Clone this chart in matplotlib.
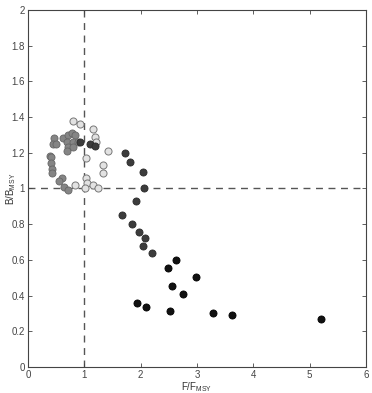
import matplotlib
matplotlib.use("Agg")
import matplotlib.pyplot as plt

plt.rcParams['font.family'] = ['Liberation Sans', 'DejaVu Sans']
plt.rcParams['mathtext.fontset'] = 'custom'
plt.rcParams['mathtext.rm'] = 'Liberation Sans'

# light gray group
light_x = [0.80, 0.92, 1.16, 1.19, 1.21, 1.43, 1.03, 1.34, 1.34, 1.03, 1.04, 1.16, 1.25, 0.83, 1.01]
light_y = [1.38, 1.36, 1.33, 1.29, 1.26, 1.21, 1.17, 1.13, 1.085, 1.06, 1.03, 1.02, 1.005, 1.02, 1.00]

# medium gray group
med_x = [0.46, 0.44, 0.50, 0.63, 0.72, 0.78, 0.83, 0.69, 0.80, 0.89, 0.72, 0.80, 0.69, 0.39,
         0.41, 0.41, 0.43, 0.43, 0.60, 0.56, 0.64, 0.72]
med_y = [1.28, 1.25, 1.25, 1.28, 1.30, 1.31, 1.30, 1.26, 1.26, 1.26, 1.23, 1.23, 1.21, 1.18,
         1.175, 1.145, 1.11, 1.085, 1.06, 1.04, 1.01, 0.99]

# dark gray group
dark_x = [0.92, 1.10, 1.19, 1.72, 1.81, 2.04, 2.06, 1.92, 1.67, 1.84, 1.98, 2.08, 2.05, 2.21]
dark_y = [1.26, 1.25, 1.24, 1.20, 1.15, 1.09, 1.005, 0.93, 0.853, 0.80, 0.758, 0.72, 0.68, 0.64]

# black group
black_x = [2.63, 2.49, 2.99, 2.56, 2.76, 1.94, 2.09, 2.52, 3.29, 3.63, 5.20]
black_y = [0.60, 0.555, 0.506, 0.454, 0.407, 0.36, 0.338, 0.315, 0.304, 0.29, 0.267]

fig = plt.figure(figsize=(3.72, 3.93), dpi=100)
ax = fig.add_axes([0.075, 0.066, 0.909, 0.909])

ax.axvline(1, color='#555555', linestyle=(0, (5, 4)), linewidth=1.0, zorder=1)
ax.axhline(1, color='#555555', linestyle=(0, (5, 4)), linewidth=1.0, zorder=1)

ms = 26
ax.scatter(med_x, med_y, s=ms, c='#858585', edgecolors='#666666', linewidths=0.6, zorder=3)
ax.scatter(light_x, light_y, s=ms, c='#e2e2e2', edgecolors='#777777', linewidths=0.7, zorder=3)
ax.scatter(dark_x, dark_y, s=ms, c='#3c3c3c', edgecolors='#2a2a2a', linewidths=0.6, zorder=4)
ax.scatter(black_x, black_y, s=ms, c='#111111', edgecolors='#000000', linewidths=0.6, zorder=4)

ax.set_xlim(0, 6)
ax.set_ylim(0, 2)
ax.set_xticks([0, 1, 2, 3, 4, 5, 6])
ax.set_yticks([0, 0.2, 0.4, 0.6, 0.8, 1, 1.2, 1.4, 1.6, 1.8, 2])
ax.set_yticklabels(['0', '0.2', '0.4', '0.6', '0.8', '1', '1.2', '1.4', '1.6', '1.8', '2'])
ax.tick_params(direction='in', top=True, right=True, labelsize=7, length=3,
               colors='#444444', labelcolor='#444444', width=0.6, pad=2)
for sp in ax.spines.values():
    sp.set_color('#444444')
    sp.set_linewidth(0.8)

ax.set_xlabel(r'F/F$_{\mathrm{MSY}}$', fontsize=7, color='#333333', labelpad=0)
ax.set_ylabel(r'B/B$_{\mathrm{MSY}}$', fontsize=7, color='#333333')
ax.yaxis.set_label_coords(-0.03, 0.5)

fig.savefig('out.png', dpi=100)
